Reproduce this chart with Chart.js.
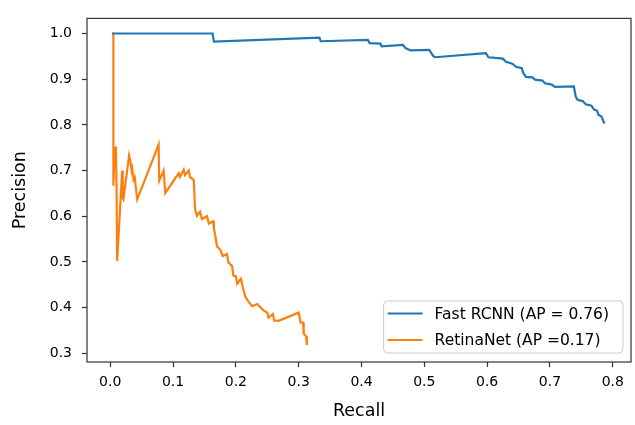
<!DOCTYPE html>
<html>
<head>
<meta charset="utf-8">
<script src="https://cdn.jsdelivr.net/npm/chart.js@4.4.1/dist/chart.umd.min.js"></script>
<style>
  body { margin: 0; background: #fff; }
  canvas { display: block; }
</style>
</head>
<body>
<canvas id="pr" width="635" height="425"></canvas>
<script>
/* data */

const fastLabel = 'Fast RCNN (AP = 0.76)'
const fastRecall = [0.003, 0.163, 0.165, 0.333, 0.335, 0.41, 0.413, 0.43, 0.432, 0.466, 0.47, 0.478, 0.508,
  0.514, 0.517, 0.598, 0.602, 0.625, 0.630, 0.640, 0.646, 0.655, 0.658, 0.662, 0.672, 0.676, 0.688, 0.692,
  0.703, 0.708, 0.738, 0.741, 0.744, 0.752, 0.757, 0.766, 0.770, 0.775, 0.777, 0.782, 0.785, 0.787]
const fastPrecision = [1.0, 1.0, 0.982, 0.991, 0.983, 0.986, 0.979, 0.978, 0.972, 0.975, 0.968, 0.963, 0.964,
  0.951, 0.948, 0.957, 0.948, 0.945, 0.938, 0.934, 0.927, 0.924, 0.912, 0.905, 0.904, 0.899, 0.897, 0.891,
  0.888, 0.883, 0.884, 0.862, 0.855, 0.852, 0.845, 0.842, 0.834, 0.831, 0.822, 0.818, 0.808, 0.803]

const retinaLabel = 'RetinaNet (AP =0.17)'
const retinaRecall = [0.003, 0.005, 0.005, 0.007, 0.009, 0.010, 0.011, 0.019, 0.020, 0.021, 0.030, 0.032,
  0.034, 0.035, 0.037, 0.039, 0.041, 0.043, 0.077, 0.078, 0.085, 0.0876, 0.109, 0.111, 0.117, 0.119, 0.125,
  0.127, 0.133, 0.135, 0.138, 0.143, 0.146, 0.154, 0.157, 0.164, 0.165, 0.167, 0.170, 0.175, 0.179, 0.186,
  0.188, 0.194, 0.196, 0.200, 0.202, 0.208, 0.211, 0.215, 0.220, 0.226, 0.234, 0.239, 0.244, 0.250, 0.252,
  0.259, 0.261, 0.268, 0.300, 0.303, 0.307, 0.308, 0.312, 0.313]
const retinaPrecision = [1.0, 1.0, 0.667, 0.75, 0.75, 0.667, 0.502, 0.70, 0.64, 0.637, 0.733, 0.72,
  0.70, 0.705, 0.68, 0.685, 0.66, 0.637, 0.757, 0.678, 0.70, 0.651, 0.694, 0.686, 0.702, 0.69, 0.70,
  0.686, 0.679, 0.616, 0.601, 0.61, 0.594, 0.60, 0.584, 0.589, 0.573, 0.559, 0.534, 0.527, 0.513, 0.517,
  0.499, 0.491, 0.470, 0.469, 0.452, 0.463, 0.445, 0.424, 0.413, 0.403, 0.408, 0.401, 0.394, 0.389, 0.378,
  0.386, 0.372, 0.371, 0.389, 0.367, 0.367, 0.343, 0.337, 0.318]

const xTicks = [0.0, 0.1, 0.2, 0.3, 0.4, 0.5, 0.6, 0.7, 0.8]
const yTicks = [0.3, 0.4, 0.5, 0.6, 0.7, 0.8, 0.9, 1.0]

const blue = '#1f77b4'
const orange = '#ff7f0e'
const fontFamily = '"DejaVu Sans", sans-serif'

function toPoints(xs, ys) {
  return xs.map((x, i) => ({ x: x, y: ys[i] }))
}

// matplotlib-like frame round the plot
const frame = {
  id: 'frame',
  afterDatasetsDraw(chart) {
    const a = chart.chartArea
    const ctx = chart.ctx
    ctx.save()
    ctx.strokeStyle = '#333'
    ctx.lineWidth = 1.2
    ctx.strokeRect(a.left, a.top, a.right - a.left, a.bottom - a.top)
    ctx.restore()
  }
}

// legend in the lower right corner, inside the axes
const boxLegend = {
  id: 'boxLegend',
  afterDraw(chart) {
    const a = chart.chartArea
    const ctx = chart.ctx
    const sets = chart.data.datasets
    ctx.save()
    ctx.font = '15.5px ' + fontFamily
    let maxW = 0
    sets.forEach(ds => { maxW = Math.max(maxW, ctx.measureText(ds.label).width) })
    const w = 51 + maxW + 14
    const h = 52
    const right = a.right - 8
    const bottom = a.bottom - 9
    const left = right - w
    const top = bottom - h

    ctx.beginPath()
    ctx.roundRect(left, top, w, h, 4)
    ctx.fillStyle = 'rgba(255,255,255,0.8)'
    ctx.fill()
    ctx.strokeStyle = '#cccccc'
    ctx.lineWidth = 1
    ctx.stroke()

    sets.forEach((ds, i) => {
      const cy = top + 12.5 + i * 26.5
      ctx.beginPath()
      ctx.moveTo(left + 4, cy)
      ctx.lineTo(left + 39, cy)
      ctx.strokeStyle = ds.borderColor
      ctx.lineWidth = 2.2
      ctx.stroke()
      ctx.fillStyle = '#000'
      ctx.textBaseline = 'middle'
      ctx.textAlign = 'left'
      ctx.fillText(ds.label, left + 51, cy + 1)
    })
    ctx.restore()
  }
}

const tickFont = { family: fontFamily, size: 14 }
const titleFont = { family: fontFamily, size: 17.5 }

new Chart(document.getElementById('pr'), {
  type: 'scatter',
  data: {
    datasets: [{
      label: fastLabel,
      data: toPoints(fastRecall, fastPrecision),
      showLine: true,
      borderColor: blue,
      backgroundColor: blue,
      borderWidth: 2.2,
      pointRadius: 0,
      tension: 0
    }, {
      label: retinaLabel,
      data: toPoints(retinaRecall, retinaPrecision),
      showLine: true,
      borderColor: orange,
      backgroundColor: orange,
      borderWidth: 2.2,
      pointRadius: 0,
      tension: 0
    }]
  },
  options: {
    responsive: false,
    animation: false,
    devicePixelRatio: 1,
    layout: { padding: { top: 9, right: 4, left: 0, bottom: 0 } },
    plugins: {
      legend: { display: false },
      tooltip: { enabled: false }
    },
    scales: {
      x: {
        type: 'linear',
        min: -0.037,
        max: 0.829,
        afterBuildTicks: s => { s.ticks = xTicks.map(v => ({ value: v })) },
        afterFit: s => { s.height = 63 },
        border: { display: false },
        grid: { drawOnChartArea: false, drawTicks: true, tickLength: 5, tickColor: '#333', tickWidth: 1.2 },
        ticks: { font: tickFont, color: '#000', padding: 7, maxRotation: 0, autoSkip: false,
          callback: v => Number(v).toFixed(1) },
        title: { display: true, text: 'Recall', font: titleFont, color: '#000', padding: { top: 0, bottom: 3 } }
      },
      y: {
        type: 'linear',
        min: 0.281,
        max: 1.033,
        afterBuildTicks: s => { s.ticks = yTicks.map(v => ({ value: v })) },
        afterFit: s => { s.width = 87 },
        border: { display: false },
        grid: { drawOnChartArea: false, drawTicks: true, tickLength: 5, tickColor: '#333', tickWidth: 1.2 },
        ticks: { font: tickFont, color: '#000', padding: 10, autoSkip: false,
          callback: v => Number(v).toFixed(1) },
        title: { display: true, text: 'Precision', font: titleFont, color: '#000', padding: { top: 10, bottom: 0 } }
      }
    }
  },
  plugins: [frame, boxLegend]
})
</script>
</body>
</html>
